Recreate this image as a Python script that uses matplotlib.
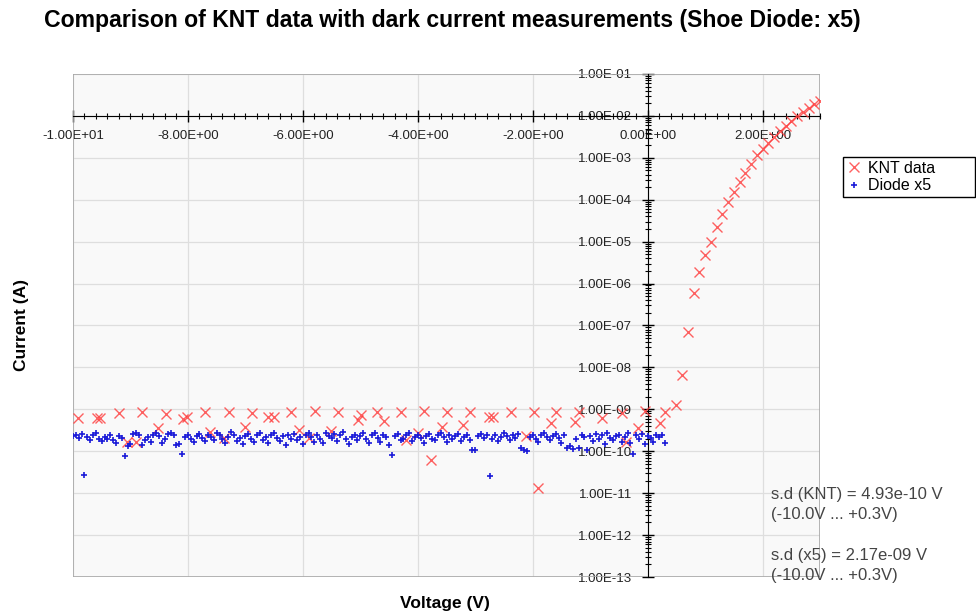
import matplotlib.pyplot as plt
import numpy as np
from matplotlib.patches import Rectangle
from matplotlib.ticker import FuncFormatter, FixedLocator, MultipleLocator, NullFormatter

plt.rcParams['font.family'] = ['Liberation Sans', 'DejaVu Sans']

# KNT data: voltage (V) and current (A)
knt_v = [
    -9.91, -9.58, -9.53, -9.20, -9.06, -8.90, -8.80, -8.52, -8.39, -8.08,
    -8.01, -7.70, -7.61, -7.38, -7.29, -7.00, -6.89, -6.60, -6.51, -6.20,
    -6.07, -5.90, -5.79, -5.51, -5.39, -5.04, -4.99, -4.71, -4.59, -4.29,
    -4.21, -4.00, -3.89, -3.77, -3.58, -3.50, -3.21, -3.09, -2.76, -2.69,
    -2.37, -2.11, -1.97, -1.90, -1.68, -1.59, -1.27, -1.20, -0.80, -0.45,
    -0.37, -0.17, -0.05, 0.21, 0.30,
    0.5, 0.6, 0.7, 0.8, 0.9, 1.0, 1.1, 1.2, 1.3, 1.4,
    1.5, 1.6, 1.7, 1.8, 1.9, 2.0, 2.1, 2.2, 2.3, 2.4,
    2.5, 2.6, 2.7, 2.8, 2.9, 3.0,
]
knt_i = [
    6.2e-10, 6.2e-10, 6.2e-10, 8.1e-10, 1.7e-10, 1.7e-10, 8.5e-10, 3.5e-10, 7.7e-10, 5.9e-10,
    6.6e-10, 8.5e-10, 2.9e-10, 2.1e-10, 8.5e-10, 3.8e-10, 8.1e-10, 6.6e-10, 6.6e-10, 8.5e-10,
    3.2e-10, 2.1e-10, 8.9e-10, 3.0e-10, 8.5e-10, 5.5e-10, 7.3e-10, 8.5e-10, 5.2e-10, 8.5e-10,
    1.85e-10, 2.7e-10, 8.9e-10, 6.2e-11, 3.8e-10, 8.5e-10, 4.3e-10, 8.5e-10, 6.6e-10, 6.6e-10,
    8.5e-10, 2.3e-10, 8.5e-10, 1.3e-11, 4.6e-10, 8.5e-10, 5.0e-10, 8.5e-10, 6.2e-10, 8.1e-10,
    1.7e-10, 3.5e-10, 9.3e-10, 4.7e-10, 8.5e-10,
    1.26e-9, 6.6e-9, 6.9e-8, 5.9e-7, 1.9e-6, 4.8e-6, 1.0e-5, 2.2e-5, 4.6e-5, 8.9e-5,
    1.5e-4, 2.6e-4, 4.3e-4, 7.1e-4, 1.2e-3, 1.6e-3, 2.2e-3, 3.1e-3, 4.3e-3, 5.8e-3,
    7.6e-3, 9.8e-3, 1.25e-2, 1.55e-2, 1.9e-2, 2.3e-2,
]

# Diode x5 sweep: -10 V .. +0.3 V in 0.05 V steps, current in units of 1e-10 A
V_START, V_STOP, V_STEP = -10.0, 0.3, 0.05
diode_i_e10 = [
    2.3, 2.5, 2.1, 2.6, 0.27, 2.2, 1.9, 2.4, 2.7, 2.0,
    1.8, 2.2, 2.0, 2.5, 1.9, 1.6, 2.3, 2.1, 0.75, 1.3,
    1.5, 2.6, 2.8, 2.4, 1.4, 1.9, 2.2, 1.7, 2.5, 2.7,
    2.3, 1.6, 2.0, 2.6, 2.8, 2.4, 1.4, 1.5, 0.85, 2.2,
    2.5, 2.0, 1.7, 2.3, 2.6, 2.1, 1.8, 2.4, 2.2, 1.9,
    2.7, 2.5, 2.0, 1.6, 2.2, 2.9, 2.4, 1.8, 2.1, 1.5,
    2.3, 2.6, 2.0, 1.7, 2.5, 2.8, 1.9, 2.2, 1.6, 2.4,
    2.7, 2.1, 1.8, 2.3, 1.4, 2.5, 2.0, 2.6, 1.9, 2.2,
    1.5, 2.4, 2.8, 2.2, 1.7, 2.5, 2.0, 1.6, 2.7, 2.3,
    2.1, 2.6, 1.8, 2.4, 2.9, 2.0, 1.5, 2.2, 2.5, 1.9,
    2.3, 2.7, 2.0, 1.6, 2.4, 2.8, 2.1, 1.7, 2.5, 2.2,
    1.4, 0.8, 2.3, 2.6, 1.9, 2.0, 2.4, 2.7, 1.8, 2.2,
    2.5, 2.1, 1.6, 2.3, 2.6, 2.0, 1.9, 2.4, 2.8, 2.2,
    1.7, 2.5, 2.0, 2.3, 2.6, 1.8, 2.2, 2.4, 1.9, 1.1,
    1.05, 2.3, 2.6, 2.1, 2.4, 0.26, 2.0, 2.5, 1.8, 2.2,
    2.7, 2.3, 1.9, 2.4, 2.1, 2.6, 1.2, 1.05, 1.0, 2.2,
    2.5, 2.0, 1.7, 2.4, 2.8, 2.2, 1.9, 2.3, 2.6, 2.1,
    1.6, 2.4, 1.2, 1.3, 1.15, 2.0, 1.2, 2.5, 2.2, 1.1,
    2.3, 1.8, 2.6, 2.0, 2.4, 1.5, 2.7, 2.1, 1.9, 2.3,
    2.5, 1.7, 2.2, 2.8, 1.6, 0.85, 2.4, 2.0, 2.6, 1.5,
    2.3, 2.1, 1.7, 2.5, 2.2, 2.4, 1.6,
]
diode_v = np.round(V_START + V_STEP * np.arange(len(diode_i_e10)), 2)
diode_i = np.array(diode_i_e10) * 1e-10

y_decades = [10.0 ** k for k in range(-13, 0)]
sd_lines = ["s.d (KNT) = 4.93e-10 V\n(-10.0V ... +0.3V)",
            "s.d (x5) = 2.17e-09 V\n(-10.0V ... +0.3V)"]

fig = plt.figure(figsize=(9.76, 6.16), dpi=100)
ax = fig.add_axes([0.0748, 0.0633, 0.7654, 0.8166])
ax.set_facecolor('#f9f9f9')

ax.plot(knt_v, knt_i, 'x', color='#ff3a3a', alpha=0.8, ms=7.5, mew=1.0, label='KNT data', zorder=3)
ax.plot(diode_v, diode_i, '+', color='#1a1ad8', ms=5, mew=1.2, label='Diode x5', zorder=4)

ax.set_yscale('log')
ax.set_xlim(-10, 3)
ax.set_ylim(1e-13, 1e-1)

# axes cross at V = 0 and I = 1e-2, like the Excel original
ax.spines['left'].set_position(('data', 0))
ax.spines['bottom'].set_position(('data', 1e-2))
for s in ['top', 'right']:
    ax.spines[s].set_visible(False)
ax.add_patch(Rectangle((0, 0), 1, 1, transform=ax.transAxes, fill=False,
                       ec='#a8a8a8', lw=1.2, zorder=1))

ax.xaxis.set_major_locator(MultipleLocator(2))
ax.xaxis.set_minor_locator(MultipleLocator(0.2))
ax.yaxis.set_major_locator(FixedLocator(y_decades))
ax.yaxis.set_minor_locator(FixedLocator([m * d for d in y_decades[:-1] for m in range(2, 10)]))
ax.yaxis.set_minor_formatter(NullFormatter())
fmt = FuncFormatter(lambda v, p: f'{v:.2E}')
ax.xaxis.set_major_formatter(fmt)
ax.yaxis.set_major_formatter(fmt)
ax.tick_params(which='major', direction='inout', length=8, width=1, labelsize=9.5, labelcolor='#222222')
ax.tick_params(which='minor', direction='inout', length=4, width=0.8)
ax.tick_params(axis='x', pad=6)
ax.tick_params(axis='y', pad=7)

ax.grid(True, which='major', color='#dedede', lw=0.9)
ax.set_axisbelow(True)

ax.legend(loc='upper left', bbox_to_anchor=(1.031, 0.755, 0.177, 0.08), mode='expand',
          borderaxespad=0, fancybox=False, edgecolor='black', framealpha=1, fontsize=11.5,
          handlelength=0.9, handletextpad=0.4, borderpad=0.25, labelspacing=0.15)

ax.text(0.934, 0.178, sd_lines[0], transform=ax.transAxes, va='top', ha='left',
        fontsize=12, color='#444444', linespacing=1.4)
ax.text(0.934, 0.058, sd_lines[1], transform=ax.transAxes, va='top', ha='left',
        fontsize=12, color='#444444', linespacing=1.4)

fig.text(0.463, 0.966, 'Comparison of KNT data with dark current measurements (Shoe Diode: x5)',
         ha='center', va='center', fontsize=16.6, fontweight='bold')
fig.text(0.0225, 0.472, 'Current (A)', rotation=90, ha='center', va='center',
         fontsize=12.5, fontweight='bold')
fig.text(0.456, 0.021, 'Voltage (V)', ha='center', va='center', fontsize=12.5, fontweight='bold')

fig.savefig('out.png', dpi=100)
